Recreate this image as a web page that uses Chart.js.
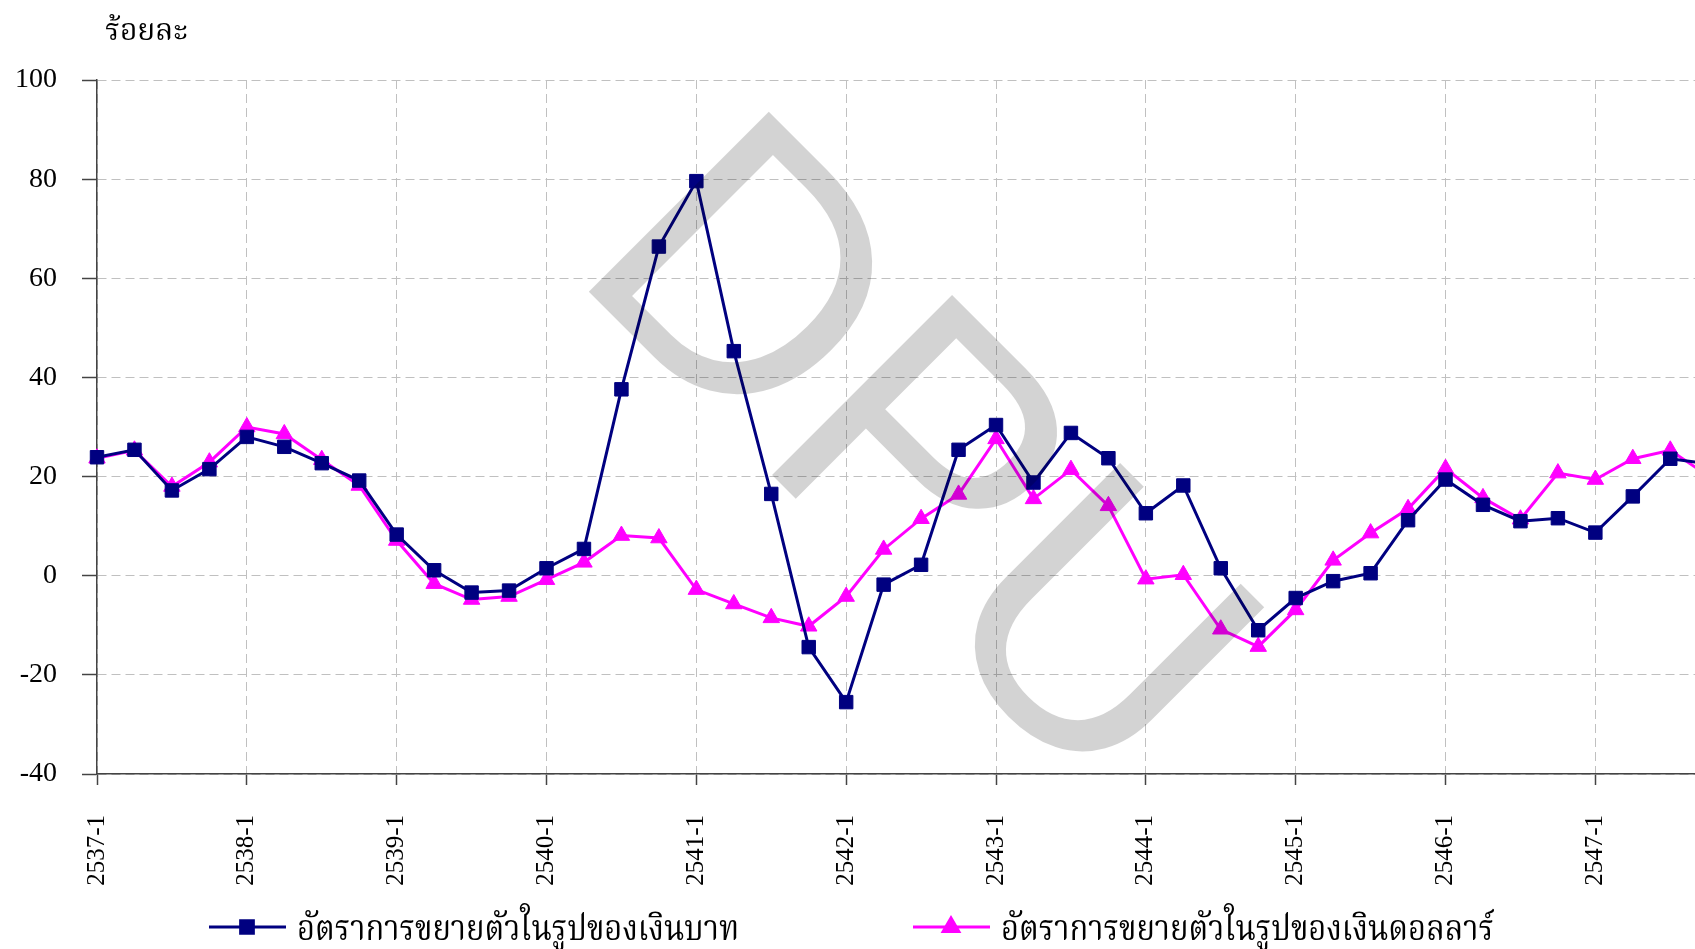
<!DOCTYPE html>
<html>
<head>
<meta charset="utf-8">
<script src="https://cdn.jsdelivr.net/npm/chart.js@4.4.1/dist/chart.umd.min.js"></script>
<style>
  html, body { margin: 0; padding: 0; background: #fff; }
  #wrap { width: 1695px; height: 949px; }
</style>
</head>
<body>
<div id="wrap"><canvas id="chart" width="1695" height="949"></canvas></div>
<script>
'use strict';

// quarters, 2537-1 .. 2547-4 (last one falls just past the right edge)
const quarters = [
  '2537-1', '2537-2', '2537-3', '2537-4',
  '2538-1', '2538-2', '2538-3', '2538-4',
  '2539-1', '2539-2', '2539-3', '2539-4',
  '2540-1', '2540-2', '2540-3', '2540-4',
  '2541-1', '2541-2', '2541-3', '2541-4',
  '2542-1', '2542-2', '2542-3', '2542-4',
  '2543-1', '2543-2', '2543-3', '2543-4',
  '2544-1', '2544-2', '2544-3', '2544-4',
  '2545-1', '2545-2', '2545-3', '2545-4',
  '2546-1', '2546-2', '2546-3', '2546-4',
  '2547-1', '2547-2', '2547-3', '2547-4'
];

const bahtGrowth = [
  23.9, 25.4, 17.2, 21.5, 28.0, 26.0, 22.7, 19.2,
  8.3, 1.1, -3.4, -3.0, 1.5, 5.4, 37.6, 66.4,
  79.6, 45.3, 16.5, -14.4, -25.5, -1.8, 2.2, 25.4,
  30.4, 18.8, 28.8, 23.7, 12.6, 18.2, 1.5, -11.0,
  -4.5, -1.1, 0.5, 11.2, 19.4, 14.3, 11.0, 11.6,
  8.7, 16.0, 23.6, 22.6
];

const dollarGrowth = [
  23.7, 25.3, 18.0, 22.9, 30.0, 28.6, 23.4, 18.2,
  7.1, -1.6, -4.8, -4.2, -0.8, 2.7, 8.1, 7.6,
  -2.8, -5.7, -8.5, -10.2, -4.2, 5.3, 11.5, 16.4,
  27.6, 15.5, 21.4, 14.1, -0.7, 0.2, -10.8, -14.3,
  -6.9, 3.1, 8.6, 13.5, 21.6, 15.7, 11.4, 20.7,
  19.4, 23.6, 25.3, 20.2
];

const yTicks = [-40, -20, 0, 20, 40, 60, 80, 100];

const seriesNames = [
  'อัตราการขยายตัวในรูปของเงินบาท',
  'อัตราการขยายตัวในรูปของเงินดอลลาร์'
];
const unitLabel = 'ร้อยละ';

const NAVY = '#000080';
const MAGENTA = '#ff00ff';
const THAI_FONT = '"Noto Serif Thai", "Noto Sans Thai", "Liberation Serif", serif';

/**
 * white background, unit label, legend and the DPU watermark
 */

const extras = {
  id: 'extras',
  beforeDraw(chart) {
    const ctx = chart.ctx;
    ctx.save();
    ctx.fillStyle = '#fff';
    ctx.fillRect(0, 0, chart.width, chart.height);
    ctx.restore();
  },
  afterDraw(chart) {
    const ctx = chart.ctx;
    ctx.save();

    // unit label
    ctx.fillStyle = '#000';
    ctx.font = '30px ' + THAI_FONT;
    ctx.textBaseline = 'alphabetic';
    ctx.fillText(unitLabel, 105, 40);

    // legend
    const items = [
      { x: 209, color: NAVY, style: 'rect', name: seriesNames[0] },
      { x: 913, color: MAGENTA, style: 'triangle', name: seriesNames[1] }
    ];
    const ly = 927;
    items.forEach(function (it) {
      ctx.strokeStyle = it.color;
      ctx.lineWidth = 3;
      ctx.beginPath();
      ctx.moveTo(it.x, ly);
      ctx.lineTo(it.x + 77, ly);
      ctx.stroke();
      ctx.fillStyle = it.color;
      Chart.helpers.drawPoint(ctx, { pointStyle: it.style, radius: 9, borderWidth: 1 }, it.x + 38, ly);
      ctx.fill();

      ctx.save();
      ctx.translate(it.x + 88, 940);
      ctx.scale(0.86, 1);
      ctx.fillStyle = '#000';
      ctx.font = '36px ' + THAI_FONT;
      ctx.fillText(it.name, 0, 0);
      ctx.restore();
    });

    // watermark
    ctx.globalCompositeOperation = 'multiply';
    ctx.fillStyle = 'rgb(211,211,211)';
    ctx.translate(568, 271);
    ctx.rotate(Math.PI / 4);
    ctx.scale(0.97, 1);
    ctx.font = '370px "Liberation Sans", Arial, sans-serif';
    ctx.textBaseline = 'alphabetic';
    ctx.fillText('DPU', 0, 0);

    ctx.restore();
  }
};

const toPoints = function (values) {
  return values.map(function (v, i) {
    return { x: i, y: v };
  });
};

new Chart(document.getElementById('chart'), {
  type: 'line',
  data: {
    datasets: [
      {
        label: seriesNames[0],
        data: toPoints(bahtGrowth),
        borderColor: NAVY,
        backgroundColor: NAVY,
        borderWidth: 3,
        pointStyle: 'rect',
        pointRadius: 9.5,
        pointBorderWidth: 1,
        pointBorderColor: NAVY,
        pointBackgroundColor: NAVY,
        tension: 0,
        clip: false
      },
      {
        label: seriesNames[1],
        data: toPoints(dollarGrowth),
        borderColor: MAGENTA,
        backgroundColor: MAGENTA,
        borderWidth: 3,
        pointStyle: 'triangle',
        pointRadius: 9.5,
        pointBorderWidth: 1,
        pointBorderColor: MAGENTA,
        pointBackgroundColor: MAGENTA,
        tension: 0,
        clip: false
      }
    ]
  },
  options: {
    responsive: false,
    animation: false,
    events: [],
    layout: { autoPadding: false, padding: { top: 80, right: 0, bottom: 55, left: 0 } },
    plugins: {
      legend: { display: false },
      tooltip: { enabled: false },
      title: { display: false }
    },
    scales: {
      x: {
        type: 'linear',
        min: 0,
        max: 42.66,
        afterFit: function (scale) {
          scale.height = 120;
          scale.paddingLeft = 0;
          scale.paddingRight = 0;
        },
        border: { display: true, color: '#444', width: 1.5, dash: [9, 5] },
        grid: {
          color: '#c0c0c0',
          lineWidth: 1,
          tickLength: 11,
          tickColor: '#444',
          tickWidth: 1.5
        },
        ticks: {
          stepSize: 4,
          includeBounds: false,
          autoSkip: false,
          minRotation: 90,
          maxRotation: 90,
          padding: 30,
          color: '#000',
          font: { family: '"Liberation Serif", serif', size: 25 },
          callback: function (value) { return quarters[value]; }
        }
      },
      y: {
        min: yTicks[0],
        max: yTicks[yTicks.length - 1],
        afterFit: function (scale) {
          scale.width = 97;
          scale.paddingTop = 0;
          scale.paddingBottom = 0;
        },
        border: { display: true, color: '#444', width: 1.5, dash: [9, 5] },
        grid: {
          color: '#c0c0c0',
          lineWidth: 1,
          tickLength: 15,
          tickColor: '#444',
          tickWidth: 1.5
        },
        ticks: {
          stepSize: 20,
          padding: 25,
          color: '#000',
          font: { family: '"Liberation Serif", serif', size: 28 }
        }
      }
    }
  },
  plugins: [extras]
});
</script>
</body>
</html>
